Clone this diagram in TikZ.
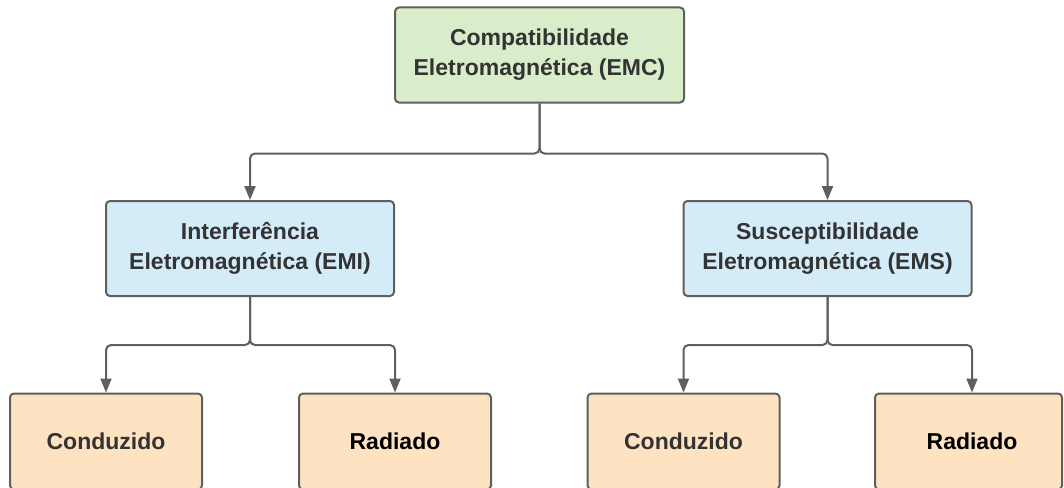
\documentclass[tikz,border=0pt]{standalone}
\usepackage{fontspec}
\setmainfont{Liberation Sans}
\usetikzlibrary{arrows.meta}
\definecolor{bordc}{HTML}{5F5F5F}
\definecolor{linec}{HTML}{5F5F5F}
\definecolor{greenf}{HTML}{D9EDCB}
\definecolor{bluef}{HTML}{D4EBF8}
\definecolor{orangef}{HTML}{FEE3C2}
\definecolor{txtc}{HTML}{333333}
\tikzset{
  boxbase/.style={draw=bordc, line width=2pt, rounded corners=4pt, inner sep=0pt,
    align=center, font=\fontsize{23}{30}\selectfont\bfseries, text=txtc},
  topbox/.style={boxbase, fill=greenf, minimum width=289pt, minimum height=95pt},
  midbox/.style={boxbase, fill=bluef, minimum width=288pt, minimum height=95pt},
  leafbox/.style={boxbase, fill=orangef, minimum width=192pt, minimum height=96pt},
  conn/.style={draw=linec, line width=2pt, rounded corners=5pt,
    -{Triangle[length=14pt,width=11pt]}}
}
\begin{document}
\begin{tikzpicture}[x=1pt,y=-1pt]
\useasboundingbox (0,0) rectangle (1064,487);
\clip (0,0) rectangle (1064,487);
\node[topbox] (emc) at (539.5,55) {Compatibilidade\\Eletromagnética (EMC)};
\node[midbox] (emi) at (250,248.5) {Interferência\\Eletromagnética (EMI)};
\node[midbox] (ems) at (827.5,248.5) {Susceptibilidade\\Eletromagnética (EMS)};
\node[leafbox] (c1) at (106,441.5) {Conduzido};
\node[leafbox, text=black] (r1) at (395,441.5) {Radiado};
\node[leafbox] (c2) at (683.5,441.5) {Conduzido};
\node[leafbox, text=black, minimum width=187pt] (r2) at (968.5,441.5) {\hspace*{7pt}Radiado};
\coordinate (r2top) at ([xshift=3.5pt]r2.north);
\draw[conn] (emc.south) -- ++(0,50) -| (emi.north);
\draw[conn] (emc.south) -- ++(0,50) -| (ems.north);
\draw[conn] (emi.south) -- ++(0,48) -| (c1.north);
\draw[conn] (emi.south) -- ++(0,48) -| (r1.north);
\draw[conn] (ems.south) -- ++(0,48) -| (c2.north);
\draw[conn] (ems.south) -- ++(0,48) -| (r2top);
\end{tikzpicture}
\end{document}
